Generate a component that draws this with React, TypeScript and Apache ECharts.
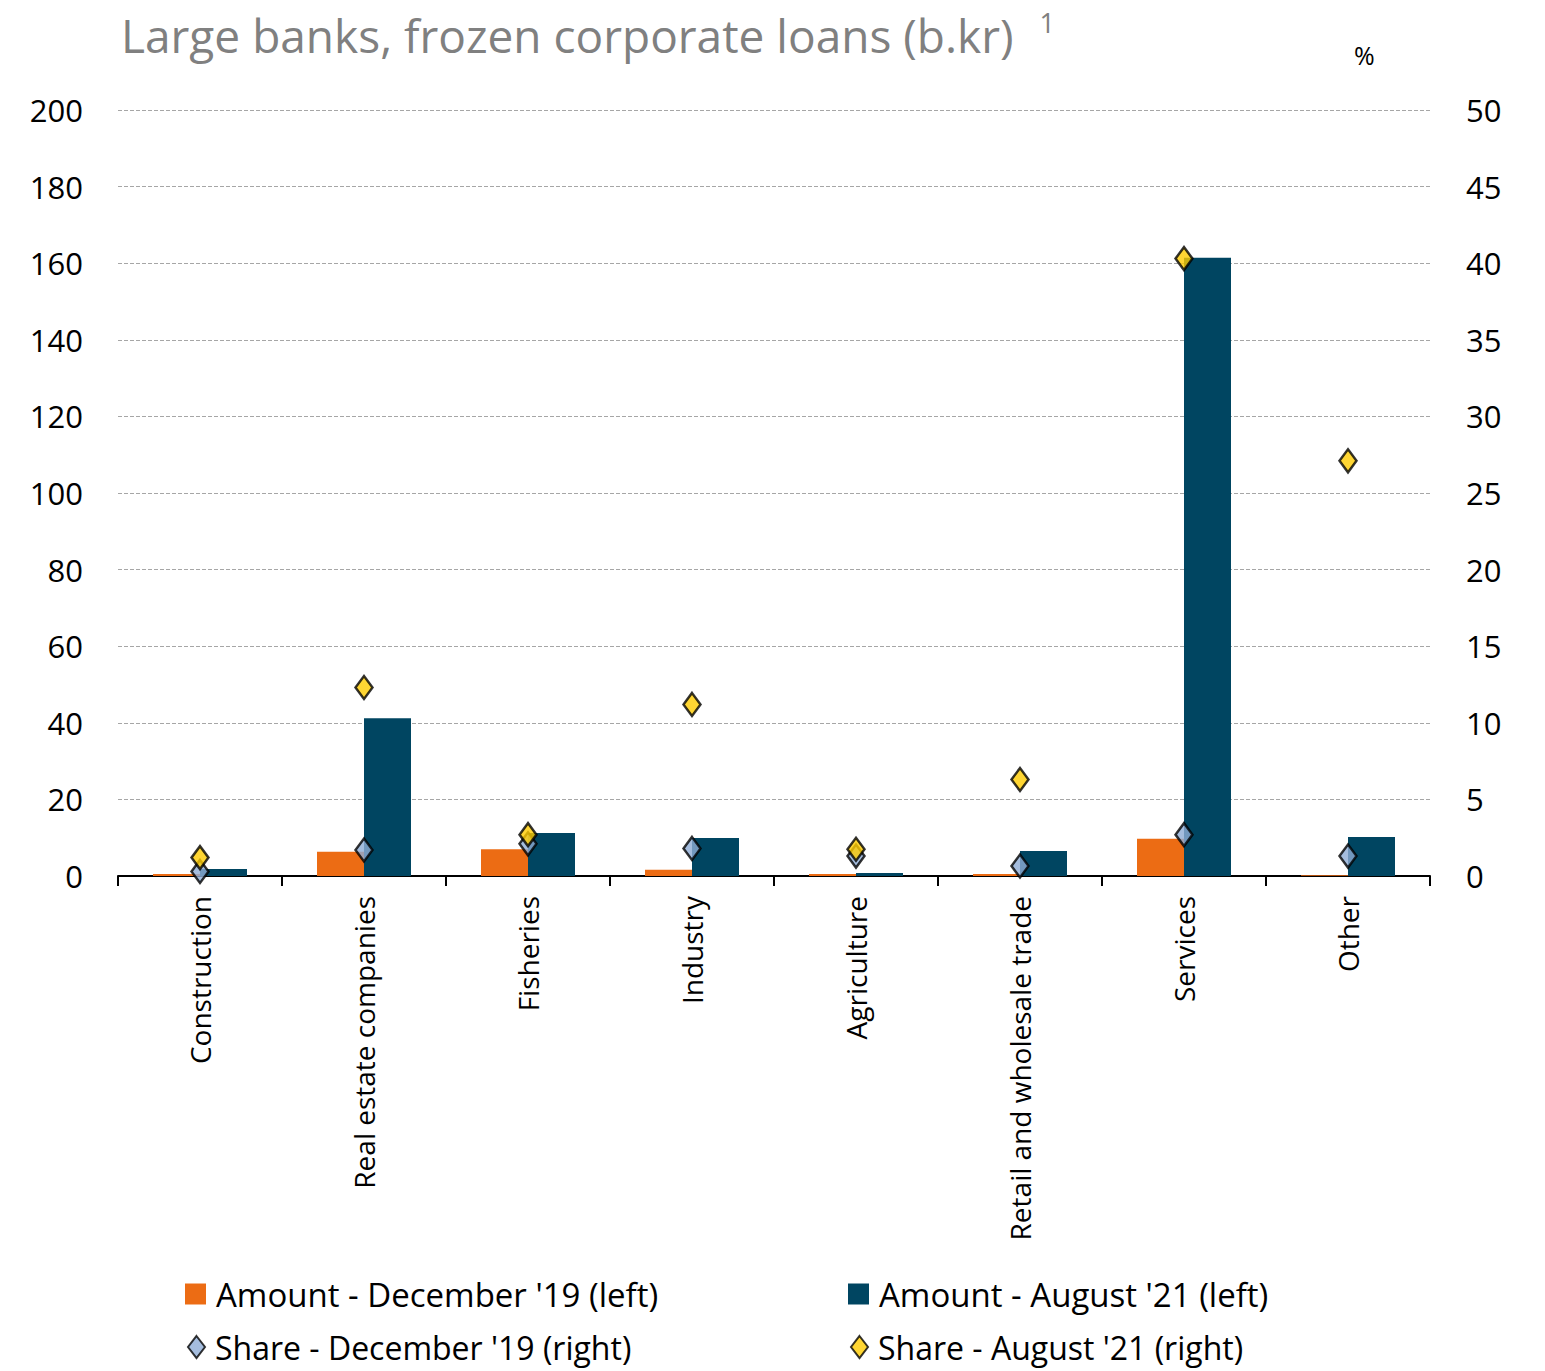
import React, { useEffect, useRef } from "react";
import * as echarts from "echarts";

const categories = [
  "Construction",
  "Real estate companies",
  "Fisheries",
  "Industry",
  "Agriculture",
  "Retail and wholesale trade",
  "Services",
  "Other",
];
const amountDec19 = [0.5, 6.3, 7.0, 1.6, 0.5, 0.5, 9.7, 0.2];
const amountAug21 = [1.8, 41.2, 11.2, 9.9, 0.8, 6.5, 161.4, 10.2];
const shareDec19 = [0.3, 1.7, 2.1, 1.8, 1.3, 0.65, 2.7, 1.3];
const shareAug21 = [1.2, 12.3, 2.7, 11.2, 1.75, 6.3, 40.3, 27.1];

const leftTicks = { min: 0, max: 200, interval: 20 };
const rightTicks = { min: 0, max: 50, interval: 5 };

const FONT = "Open Sans";

export default function App() {
  const ref = useRef<HTMLDivElement>(null);
  useEffect(() => {
    document.body.style.margin = "0";
    if (!ref.current) return;
    const chart = echarts.init(ref.current, undefined, { renderer: "svg" });
    const legendText = {
      fontFamily: FONT,
      fontSize: 33,
      lineHeight: 34,
      color: "#000",
      padding: [0, 0, 0, 5],
    };
    const legendText2 = { ...legendText, fontSize: 32 };
    chart.setOption({
      animation: false,
      backgroundColor: "#fff",
      textStyle: { fontFamily: FONT },
      title: {
        text: "Large banks, frozen corporate loans (b.kr) {s|1}",
        left: 121,
        top: 9,
        padding: 0,
        textStyle: {
          fontFamily: FONT,
          fontSize: 46,
          lineHeight: 52,
          fontWeight: "normal",
          color: "#808080",
          rich: {
            s: {
              fontSize: 27,
              lineHeight: 30,
              verticalAlign: "top",
              color: "#808080",
              padding: [0, 0, 12, 14],
            },
          },
        },
      },
      graphic: [
        {
          type: "text",
          left: 1354,
          top: 42,
          style: { text: "%", font: `25px "${FONT}"`, fill: "#000" },
        },
      ],
      legend: [
        {
          left: 180,
          top: 1272,
          data: [{ name: "Amount - December '19 (left)", icon: "rect" }],
          itemWidth: 21,
          itemHeight: 21,
          textStyle: legendText,
        },
        {
          left: 843,
          top: 1272,
          data: [{ name: "Amount - August '21 (left)", icon: "rect" }],
          itemWidth: 21,
          itemHeight: 21,
          textStyle: legendText,
        },
        {
          left: 182,
          top: 1325,
          data: [{ name: "Share - December '19 (right)", icon: "diamond" }],
          itemWidth: 17,
          itemHeight: 22,
          textStyle: legendText2,
        },
        {
          left: 845,
          top: 1325,
          data: [{ name: "Share - August '21 (right)", icon: "diamond" }],
          itemWidth: 17,
          itemHeight: 22,
          textStyle: legendText2,
        },
      ],
      grid: { left: 118, right: 115, top: 110, bottom: 495, containLabel: false },
      xAxis: {
        type: "category",
        data: categories,
        axisLine: { lineStyle: { color: "#000", width: 2 } },
        axisTick: { show: true, length: 10, lineStyle: { color: "#000", width: 2 } },
        axisLabel: {
          rotate: 90,
          fontFamily: FONT,
          fontSize: 28,
          color: "#000",
          margin: 20,
          interval: 0,
        },
      },
      yAxis: [
        {
          type: "value",
          ...leftTicks,
          axisLine: { show: false },
          axisTick: { show: false },
          axisLabel: { fontFamily: FONT, fontSize: 31, color: "#000", margin: 35 },
          splitLine: { lineStyle: { color: "#a6a6a6", type: [4, 2], width: 1 } },
        },
        {
          type: "value",
          ...rightTicks,
          position: "right",
          axisLine: { show: false },
          axisTick: { show: false },
          axisLabel: { fontFamily: FONT, fontSize: 31, color: "#000", margin: 36 },
          splitLine: { show: false },
        },
      ],
      series: [
        {
          name: "Amount - December '19 (left)",
          type: "bar",
          data: amountDec19,
          barWidth: 47,
          barGap: "0%",
          itemStyle: { color: "#EC6C14" },
          yAxisIndex: 0,
        },
        {
          name: "Amount - August '21 (left)",
          type: "bar",
          data: amountAug21,
          barWidth: 47,
          barGap: "0%",
          itemStyle: { color: "#004561" },
          yAxisIndex: 0,
        },
        {
          name: "Share - December '19 (right)",
          type: "scatter",
          data: shareDec19,
          yAxisIndex: 1,
          symbol: "diamond",
          symbolSize: [17, 23],
          itemStyle: { color: "#8FADD6", borderColor: "#000", borderWidth: 2.5 },
          z: 5,
        },
        {
          name: "Share - August '21 (right)",
          type: "scatter",
          data: shareAug21,
          yAxisIndex: 1,
          symbol: "diamond",
          symbolSize: [17, 23],
          itemStyle: { color: "#FFCC00", borderColor: "#000", borderWidth: 2.5 },
          z: 6,
        },
      ],
    });
    return () => chart.dispose();
  }, []);
  return <div ref={ref} style={{ width: 1545, height: 1371 }} />;
}
